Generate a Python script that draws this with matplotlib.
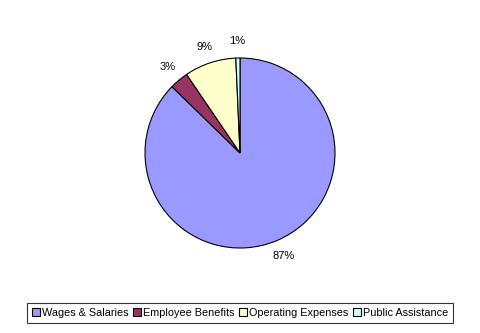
import matplotlib
matplotlib.use('Agg')
import matplotlib.pyplot as plt

# spending categories and their shares (percent)
categories = ['Wages & Salaries', 'Employee Benefits', 'Operating Expenses', 'Public Assistance']
shares = [87.3, 3.2, 8.8, 0.7]
colors = ['#9999FF', '#993366', '#FFFFCC', '#CCFFFF']

plt.rcParams['font.family'] = ['Liberation Sans', 'DejaVu Sans']

fig = plt.figure(figsize=(4.81, 3.33), dpi=100)
ax = fig.add_axes([0, 0, 1, 1])
ax.set_aspect('equal')
ax.axis('off')

wedges, texts, autotexts = ax.pie(
    shares, colors=colors, startangle=90, counterclock=False,
    center=(240, 180), radius=95, autopct='%.0f%%', pctdistance=1.18,
    wedgeprops=dict(edgecolor='black', linewidth=0.8),
    textprops=dict(fontsize=8, color='black'))
ax.set_xlim(0, 481)
ax.set_ylim(0, 333)

leg = fig.legend(wedges, categories, loc='center', ncol=4,
                 bbox_to_anchor=(240 / 481, 1 - 313 / 333),
                 fontsize=7.8, frameon=True, fancybox=False,
                 handlelength=0.7, handleheight=0.7, handletextpad=0.2,
                 columnspacing=0.45, borderpad=0.45, borderaxespad=0)
leg.get_frame().set_edgecolor('black')
leg.get_frame().set_linewidth(0.8)

fig.savefig('out.png', dpi=100)
